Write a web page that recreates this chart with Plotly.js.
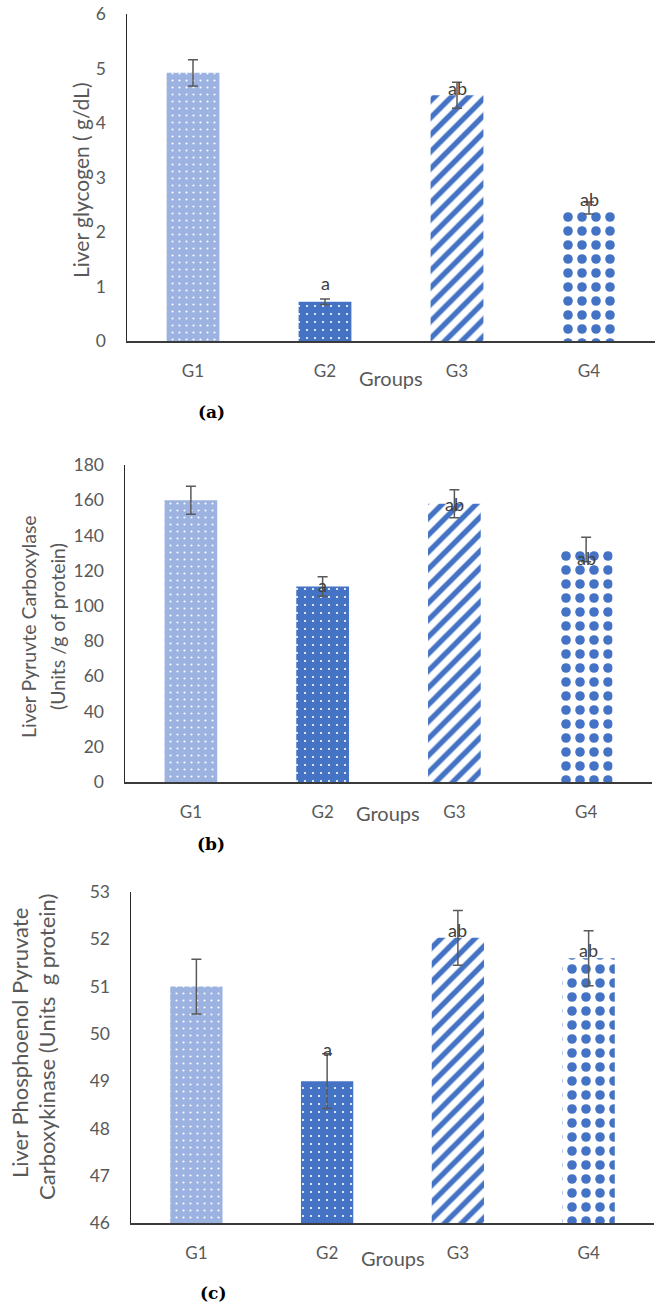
<!DOCTYPE html>
<html>
<head>
<meta charset="utf-8">
<script src="https://cdn.plot.ly/plotly-3.0.1.min.js"></script>
<style>
  html, body { margin: 0; padding: 0; background: #fff; }
  #chart { width: 664px; height: 1306px; }
</style>
</head>
<body>
<div id="chart"></div>
<script>
// ---------- data ----------
const groups = ['G1', 'G2', 'G3', 'G4'];

const glycogen = [4.92, 0.72, 4.51, 2.44];
const glycogenErr = [0.24, 0.05, 0.24, 0.11];

const pyruvateCarboxylase = [160, 111, 158, 132];
const pyruvateCarboxylaseErr = [8, 5.5, 8, 7];

const pepck = [51.0, 49.0, 52.03, 51.6];
const pepckErr = [0.58, 0.58, 0.58, 0.58];

const sigLetters = ['', 'a', 'ab', 'ab'];

const ticksA = [0, 1, 2, 3, 4, 5, 6];
const ticksB = [0, 20, 40, 60, 80, 100, 120, 140, 160, 180];
const ticksC = [46, 47, 48, 49, 50, 51, 52, 53];

const titleA = 'Liver glycogen ( g/dL)';
const titleB = ['Liver Pyruvte Carboxylase', '(Units /g of protein)'];
const titleC = ['Liver Phosphoenol Pyruvate', 'Carboxykinase (Units  g protein)'];
const xTitle = 'Groups';
const panelLabels = ['(a)', '(b)', '(c)'];

// ---------- styling ----------
const W = 664, H = 1306;
const FONT = 'Lato, Carlito, "Open Sans", sans-serif';
const TXT = '#595959';
const BLUE = '#4472C4';

// one fill style per group
const groupStyles = [
  { shape: '.', bg: '#9cb2e0', fg: '#ffffff', size: 7, solidity: 0.07 },
  { shape: '.', bg: BLUE, fg: '#ffffff', size: 8, solidity: 0.06 },
  { shape: '/', bg: '#ffffff', fg: BLUE, size: 12, solidity: 0.45 },
  { shape: '.', bg: '#ffffff', fg: BLUE, size: 14, solidity: 0.37 }
];

function px(x) { return x / W; }
function py(y) { return 1 - y / H; }

const data = [];
function addBars(vals, errs, xa, ya) {
  groups.forEach((g, i) => {
    const s = groupStyles[i];
    data.push({
      type: 'bar', x: [g], y: [vals[i]], xaxis: xa, yaxis: ya,
      width: 0.4,
      marker: {
        color: s.bg, line: { width: 0 },
        pattern: { shape: s.shape, fillmode: 'replace', bgcolor: s.bg, fgcolor: s.fg,
                   fgopacity: 1, size: s.size, solidity: s.solidity }
      },
      error_y: { type: 'data', array: [errs[i]], visible: true, color: '#595959', thickness: 1.5, width: 5 },
      hoverinfo: 'skip'
    });
  });
}
addBars(glycogen, glycogenErr, 'x', 'y');
addBars(pyruvateCarboxylase, pyruvateCarboxylaseErr, 'x2', 'y2');
addBars(pepck, pepckErr, 'x3', 'y3');

function xAxis(dom, anchor) {
  return {
    domain: dom, anchor: anchor, type: 'category',
    categoryorder: 'array', categoryarray: groups,
    showline: true, linecolor: '#3a3a3a', linewidth: 1.5,
    showgrid: false, zeroline: false,
    ticks: 'outside', ticklen: 14, tickcolor: 'rgba(0,0,0,0)',
    tickfont: { family: FONT, size: 17, color: TXT },
    fixedrange: true
  };
}
function yAxis(dom, anchor, range, ticks) {
  return {
    domain: dom, anchor: anchor, range: range,
    tickmode: 'array', tickvals: ticks, ticktext: ticks.map(String),
    showline: true, linecolor: '#2a2a2a', linewidth: 1.5,
    showgrid: false, zeroline: false,
    ticks: 'outside', ticklen: 16, tickcolor: 'rgba(0,0,0,0)',
    tickfont: { family: FONT, size: 17.5, color: TXT },
    fixedrange: true
  };
}

const annotations = [];
function txt(text, x, y, opts) {
  annotations.push(Object.assign({
    text: text, xref: 'paper', yref: 'paper', x: px(x), y: py(y),
    xanchor: 'center', yanchor: 'middle', showarrow: false,
    font: { family: FONT, size: 18, color: TXT }
  }, opts || {}));
}
function f(size) { return { family: FONT, size: size, color: TXT }; }

// Y titles
txt(titleA, 80, 180, { textangle: -90, font: f(21) });
txt(titleB[0], 28, 627, { textangle: -90, font: f(19.5) });
txt(titleB[1], 57, 627, { textangle: -90, font: f(19.5) });
txt(titleC[0], 19, 1043, { textangle: -90, font: f(22) });
txt(titleC[1], 46, 1047, { textangle: -90, font: f(22) });

// X titles
txt(xTitle, 391, 378, { font: f(20) });
txt(xTitle, 388, 813, { font: f(20) });
txt(xTitle, 393, 1258, { font: f(20) });

// Panel labels
const serif = { family: '"DejaVu Serif", "Liberation Serif", serif', size: 17, color: '#000' };
txt('<b>' + panelLabels[0] + '</b>', 211, 412, { font: serif });
txt('<b>' + panelLabels[1] + '</b>', 211, 844, { font: serif });
txt('<b>' + panelLabels[2] + '</b>', 213, 1293, { font: serif });

// significance letters
function letters(vals, xa, ya, shifts) {
  groups.forEach((g, i) => {
    if (!sigLetters[i]) return;
    annotations.push({
      text: sigLetters[i], x: g, y: vals[i], xref: xa, yref: ya,
      yshift: shifts[i], xanchor: 'center', yanchor: 'middle', showarrow: false,
      font: { family: FONT, size: 18, color: '#404040' }
    });
  });
}
letters(glycogen, 'x', 'y', [0, 19, 7, 9]);
letters(pyruvateCarboxylase, 'x2', 'y2', [0, 2, 0, -8]);
letters(pepck, 'x3', 'y3', [0, 32, 8, 8]);

const layout = {
  width: W, height: H,
  margin: { l: 0, r: 0, t: 0, b: 0 },
  paper_bgcolor: '#fff', plot_bgcolor: '#fff',
  showlegend: false, hovermode: false,
  barmode: 'overlay',
  xaxis: xAxis([px(127), px(655)], 'y'),
  yaxis: yAxis([py(341), py(14)], 'x', [0, 6], ticksA),
  xaxis2: xAxis([px(125), px(652)], 'y2'),
  yaxis2: yAxis([py(782), py(465)], 'x2', [0, 180], ticksB),
  xaxis3: xAxis([px(131), px(654)], 'y3'),
  yaxis3: yAxis([py(1223), py(892)], 'x3', [46, 53], ticksC),
  annotations: annotations
};

Plotly.newPlot('chart', data, layout, { displayModeBar: false, staticPlot: true });
</script>
</body>
</html>
